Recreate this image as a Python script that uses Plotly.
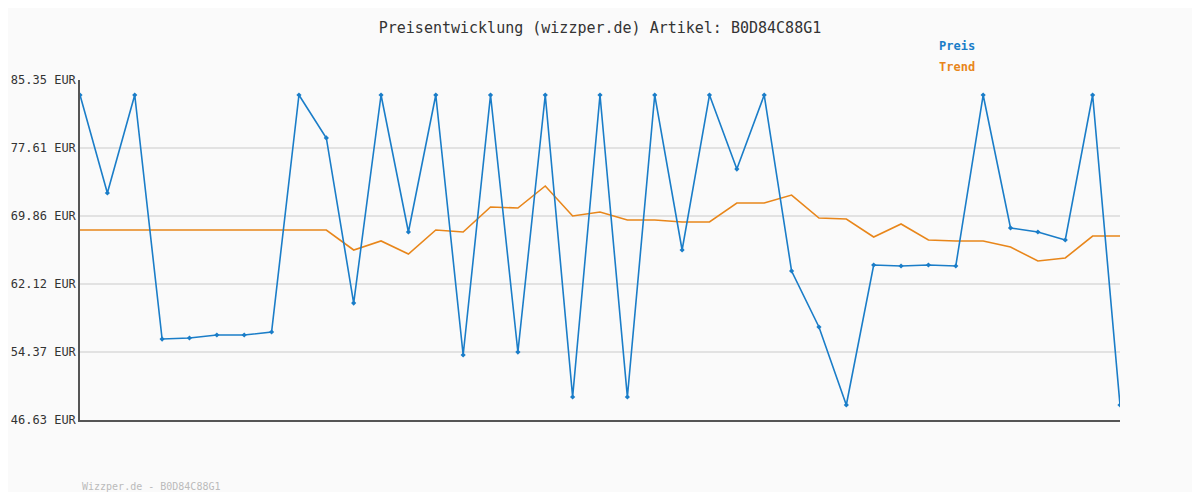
import plotly.graph_objects as go

idx = list(range(39))
preis = [83.64,72.48,83.64,55.85,55.97,56.31,56.31,56.65,83.64,78.75,59.95,83.64,68.04,83.64,54.03,83.64,54.37,83.64,49.25,83.64,49.25,83.64,65.99,83.64,75.21,83.64,63.60,57.22,48.34,64.28,64.17,64.28,64.17,83.64,68.50,68.04,67.13,83.64,48.34]
trend = [68.27]*10 + [65.99,67.02,65.53,68.27,68.04,70.89,70.77,73.28,69.86,70.32,69.41,69.41,69.18,69.18,71.34,71.34,72.25,69.63,69.52,67.47,68.95,67.13,67.02,67.02,66.33,64.74,65.08,67.58,67.58]
yticks = [46.63,54.37,62.12,69.86,77.61,85.35]

fig = go.Figure()
fig.add_trace(go.Scatter(x=idx, y=trend, mode="lines", line=dict(color="#e8861a", width=1.6), hoverinfo="skip"))
fig.add_trace(go.Scatter(x=idx, y=preis, mode="lines+markers", line=dict(color="#1a7dc8", width=1.6),
                         marker=dict(symbol="diamond", size=4, color="#1a7dc8")))
fig.update_layout(
    width=1184, height=484, showlegend=False,
    paper_bgcolor="#fafafa", plot_bgcolor="#fafafa",
    margin=dict(l=72, r=72, t=72, b=72),
    font=dict(family="DejaVu Sans Mono", size=12, color="#333"),
    title=dict(text="Preisentwicklung (wizzper.de) Artikel: B0D84C88G1", x=0.5, xanchor="center",
               y=1-20/484, yanchor="middle", font=dict(size=15, color="#333")),
)
fig.update_xaxes(range=[0,38], showgrid=False, showticklabels=False, showline=True, linecolor="#555", linewidth=1.5, zeroline=False, automargin=False)
fig.update_yaxes(range=[46.63,85.35], tickvals=yticks, ticktext=[f"{v:.2f} EUR" for v in yticks],
                 showgrid=True, gridcolor="#e2e2e2", gridwidth=2, showline=True, linecolor="#555", linewidth=1.5,
                 ticks="outside", ticklen=0, zeroline=False, tickfont=dict(size=12, color="#333"), automargin=False)
fig.add_annotation(x=0.843, y=1.1, xref="paper", yref="paper", text="<b>Preis</b>", showarrow=False, font=dict(color="#1a7dc8", size=12), xanchor="center", yanchor="middle")
fig.add_annotation(x=0.843, y=1.038, xref="paper", yref="paper", text="<b>Trend</b>", showarrow=False, font=dict(color="#e8861a", size=12), xanchor="center", yanchor="middle")
fig.add_annotation(x=0, y=-0.195, xref="paper", yref="paper", text="Wizzper.de - B0D84C88G1", showarrow=False, font=dict(color="#bbb", size=10), xanchor="left", yanchor="middle")
fig.write_html("out.html")
